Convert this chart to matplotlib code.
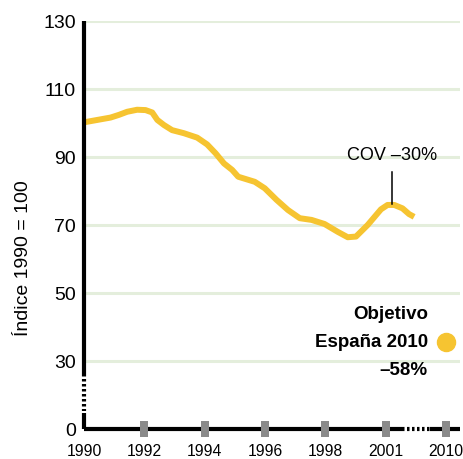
import numpy as np
import matplotlib.pyplot as plt

plt.rcParams['font.family'] = ['Liberation Sans', 'DejaVu Sans']

# datos
years = [1990.0, 1990.44, 1990.88, 1991.16, 1991.43, 1991.76, 1992.04, 1992.26, 1992.43,
         1992.65, 1992.92, 1993.31, 1993.75, 1994.08, 1994.36, 1994.64, 1994.91, 1995.11,
         1995.66, 1995.99, 1996.38, 1996.76, 1997.15, 1997.54, 1997.97, 1998.61, 1999.11,
         1999.52, 2000.1, 2000.76, 2001.09, 2001.42, 2001.83, 2002.16, 2002.41]
index = [100.2, 100.9, 101.6, 102.4, 103.3, 103.9, 103.8, 103.1, 100.9,
         99.4, 97.9, 97.0, 95.7, 93.7, 91.1, 88.1, 86.2, 84.2,
         82.7, 80.8, 77.4, 74.4, 72.0, 71.5, 70.3, 68.0, 66.4,
         66.6, 70.0, 74.6, 75.9, 75.9, 74.9, 73.2, 72.4]
tick_years = [1990, 1992, 1994, 1996, 1998, 2001, 2010]
ytick_vals = [10, 30, 50, 70, 90, 110, 130]
ytick_labels = ['0', '30', '50', '70', '90', '110', '130']
cov_year, cov_val = 2001.33, 75.9
target_val = 35.5


def xpos(y):
    # eje no lineal: 2 anos por division hasta 1998, luego 3, 2010 al final
    y = np.asarray(y, dtype=float)
    return np.where(y <= 1998, (y - 1990) / 2, np.where(y <= 2001, 4 + (y - 1998) / 3,
                    np.where(y < 2010, 5 + (y - 2001) / 3, 6)))


yellow = '#f6c431'
fig = plt.figure(figsize=(4.63, 4.59), dpi=100)
ax = fig.add_axes([84 / 463, 30 / 459, 376 / 463, 408 / 459])
for s in ax.spines.values():
    s.set_visible(False)

for v in ytick_vals[1:]:
    ax.axhline(v, color='#e4eedc', lw=2.2, zorder=0)

ax.plot(xpos(years), index, color=yellow, lw=4.3, solid_capstyle='butt',
        solid_joinstyle='round', zorder=3)

# ejes con tramos cortados
k = dict(color='black', lw=3, clip_on=False, zorder=4)
ax.plot([0, 0], [130, 26.2], solid_capstyle='butt', **k)
ax.plot([0, 0], [26.2, 15.2], ls=(0, (0.6, 0.6)), **k)
ax.plot([0, 0], [14.7, 10], solid_capstyle='butt', **k)
ax.plot([0, 5.27], [10, 10], solid_capstyle='butt', **k)
ax.plot([5.27, 5.73], [10, 10], ls=(0, (0.6, 0.6)), **k)
ax.plot([5.73, 6.23], [10, 10], solid_capstyle='butt', **k)

tx = xpos(tick_years)
ax.bar(tx[1:], 4.7, bottom=7.65, width=0.133, color='#8a8a8a', clip_on=False, zorder=5)

ax.set_xlim(0, 6.23)
ax.set_ylim(10, 130)
ax.set_xticks(tx, [str(t) for t in tick_years])
ax.set_yticks(ytick_vals, ytick_labels)
ax.tick_params(axis='x', length=0, pad=11, labelsize=11.3)
ax.tick_params(axis='y', length=0, pad=6, labelsize=14)
ax.get_xticklabels()[-1].set_x(5.985)
fig.text(24 / 463, 1 - 258 / 459, 'Índice 1990 = 100', rotation=90, ha='center', va='center',
         fontsize=14)

cx = float(xpos(cov_year))
ax.plot([cx, cx], [cov_val + 0.3, cov_val + 9.8], color='black', lw=1.1, zorder=4)
ax.text(cx, cov_val + 12.0, 'COV –30%', ha='center', va='bottom', fontsize=13)

ax.plot([6], [target_val], 'o', ms=13, color=yellow, clip_on=False, zorder=5)
ax.text(5.7, target_val + 8.2, 'Objetivo', ha='right', va='center', fontsize=13.5, fontweight='bold')
ax.text(5.7, target_val, 'España 2010', ha='right', va='center', fontsize=13.5, fontweight='bold')
ax.text(5.3, target_val - 8.2, '–58%', ha='center', va='center', fontsize=13.5, fontweight='bold')

fig.savefig('out.png', dpi=100)
